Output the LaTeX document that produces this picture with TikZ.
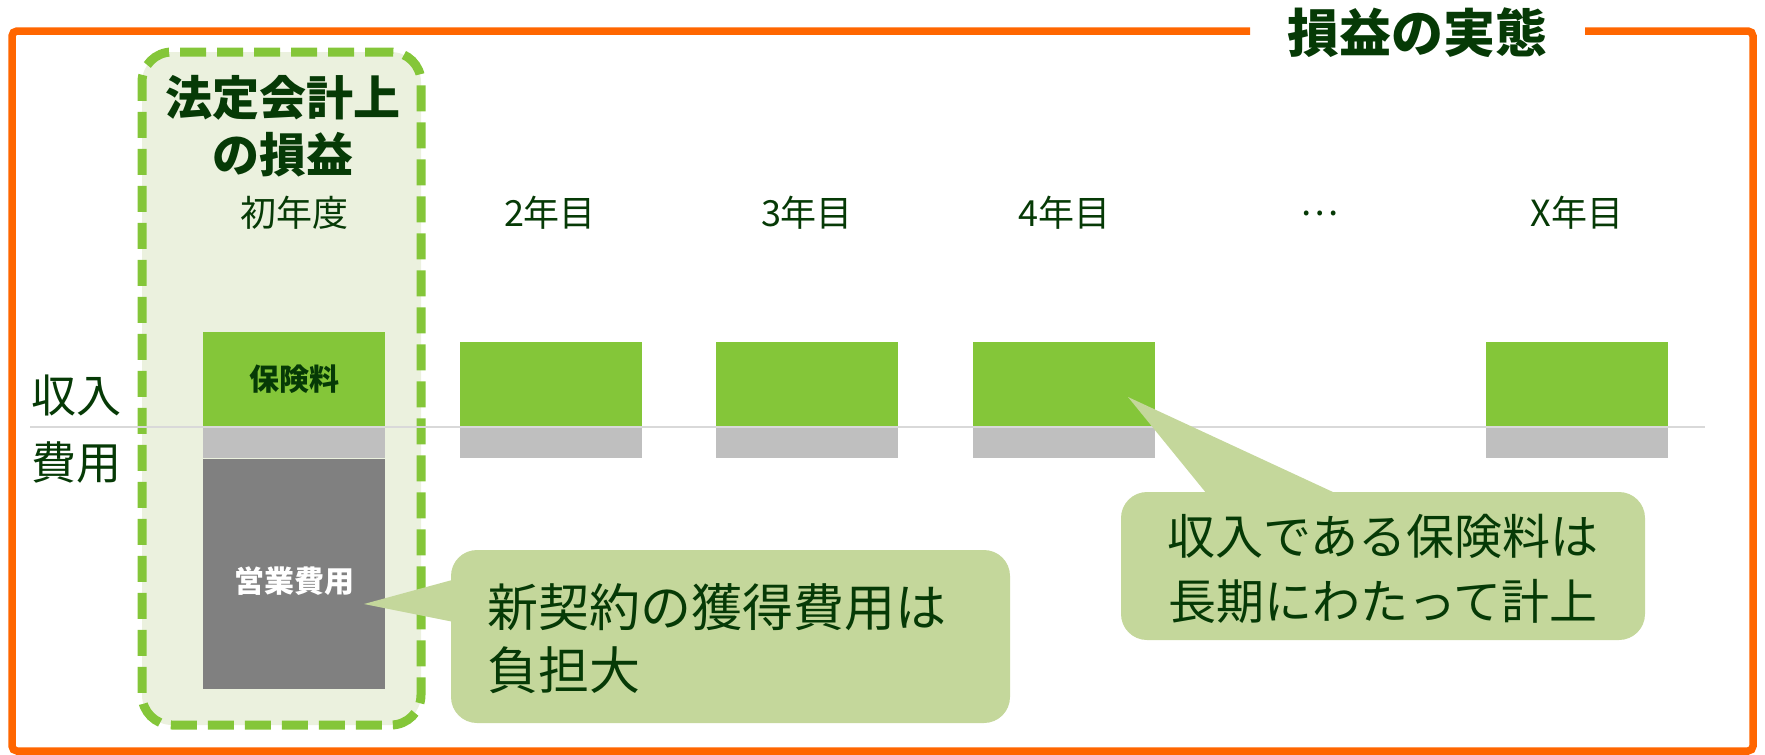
\documentclass[tikz,border=0pt]{standalone}
\usepackage{fontspec}
\setmainfont{Noto Sans CJK JP}
\usetikzlibrary{calc}
\definecolor{frameor}{HTML}{FF6600}
\definecolor{dk}{HTML}{063A06}
\definecolor{gr}{HTML}{84C639}
\definecolor{lgray}{HTML}{BFBFBF}
\definecolor{dgray}{HTML}{808080}
\definecolor{callfill}{HTML}{C4D79B}
\definecolor{legalfill}{HTML}{EBF1DE}
\definecolor{axisline}{HTML}{D9D9D9}
\tikzset{
  frameline/.style={draw=frameor, line width=7.5pt, rounded corners=5pt},
  txt/.style={text=dk, inner sep=0pt},
  ttl/.style={txt, font=\bfseries\fontsize{52}{60}\selectfont},
  head/.style={txt, align=center, font=\bfseries\fontsize{47}{57}\selectfont},
  yearlbl/.style={txt, font=\fontsize{36}{40}\selectfont},
  sidelbl/.style={txt, anchor=west, font=\fontsize{45}{50}\selectfont},
  legalbox/.style={draw=gr, fill=legalfill, line width=9pt, rounded corners=30pt,
    dash pattern=on 26pt off 11pt, inner sep=0pt},
  gbox/.style={fill=gr, minimum width=182pt, inner sep=0pt, text=dk,
    font=\bfseries\fontsize{30}{34}\selectfont},
  graybox/.style={fill=lgray, minimum width=182pt, minimum height=30pt, inner sep=0pt},
  costbox/.style={fill=dgray, minimum width=182pt, minimum height=230pt, inner sep=0pt,
    text=white, font=\bfseries\fontsize{30}{34}\selectfont},
  callbox/.style={fill=callfill, rounded corners=26pt, inner sep=0pt},
  calltext/.style={txt},
}
\begin{document}
\begin{tikzpicture}[x=1pt,y=-1pt]
\useasboundingbox (0,0) rectangle (1765,755);
% outer frame with gap for title
\coordinate (gapL) at (1250,31);
\coordinate (gapR) at (1585,31);
\draw[frameline] (gapL) -| (12,751) -| (1753,31) -- (gapR);
\node[ttl] (title) at (1417,33) {損益の実態};

% legal accounting column
\node[legalbox, minimum width=279pt, minimum height=673pt] (legal) at (281.5,388.5) {};
\node[head] (legalhead) at (283,126.5) {法定会計上\\の損益};

% year labels
\node[yearlbl] (y1) at (294,213) {初年度};
\node[yearlbl] (y2) at (550,213) {2年目};
\node[yearlbl] (y3) at (807,213) {3年目};
\node[yearlbl] (y4) at (1064,213) {4年目};
\node[yearlbl] (ydots) at (1320,213) {…};
\node[yearlbl] (yx) at (1577,213) {X年目};

% side labels
\node[sidelbl] (inc) at (31,395) {収入};
\node[sidelbl] (cost) at (31,463) {費用};

% boxes
\node[gbox, minimum height=94pt] (g1) at (294,379) {保険料};
\node[gbox, minimum height=84pt] (g2) at (550.5,384) {};
\node[gbox, minimum height=84pt] (g3) at (807,384) {};
\node[gbox, minimum height=84pt] (g4) at (1064,384) {};
\node[gbox, minimum height=84pt] (gx) at (1577,384) {};
\node[graybox] (k1) at (294,443) {};
\node[graybox] (k2) at (550.5,443) {};
\node[graybox] (k3) at (807,443) {};
\node[graybox] (k4) at (1064,443) {};
\node[graybox] (kx) at (1577,443) {};
\node[costbox] (op) at (294,574) {};
\node[text=white, inner sep=0pt, font=\bfseries\fontsize{30}{34}\selectfont] (oplbl) at (294,581) {営業費用};

% axis line
\coordinate (axL) at (30,427);
\coordinate (axR) at (1705,427);
\draw[axisline, line width=2.5pt] (axL) -- (axR);

% callout 1
\node[callbox, minimum width=559pt, minimum height=173pt] (c1) at (730.5,636.5) {};
\coordinate (tip1) at (364,604);
\fill[callfill] ($(c1.north west)+(2,30)$) -- (tip1) -- ($(c1.north west)+(2,72)$) -- cycle;
\node[calltext, anchor=west, align=left, font=\fontsize{51}{63}\selectfont] (c1t) at (487,638.5) {新契約の獲得費用は\\負担大};

% callout 2
\node[callbox, minimum width=524pt, minimum height=148pt] (c2) at (1383,566) {};
\coordinate (tip2) at (1128,397);
\fill[callfill] ($(c2.north west)+(86,2)$) -- (tip2) -- ($(c2.north west)+(216,2)$) -- cycle;
\node[calltext, align=center, font=\fontsize{48}{65}\selectfont] (c2t) at (1383,568.5) {収入である保険料は\\長期にわたって計上};
\end{tikzpicture}
\end{document}
